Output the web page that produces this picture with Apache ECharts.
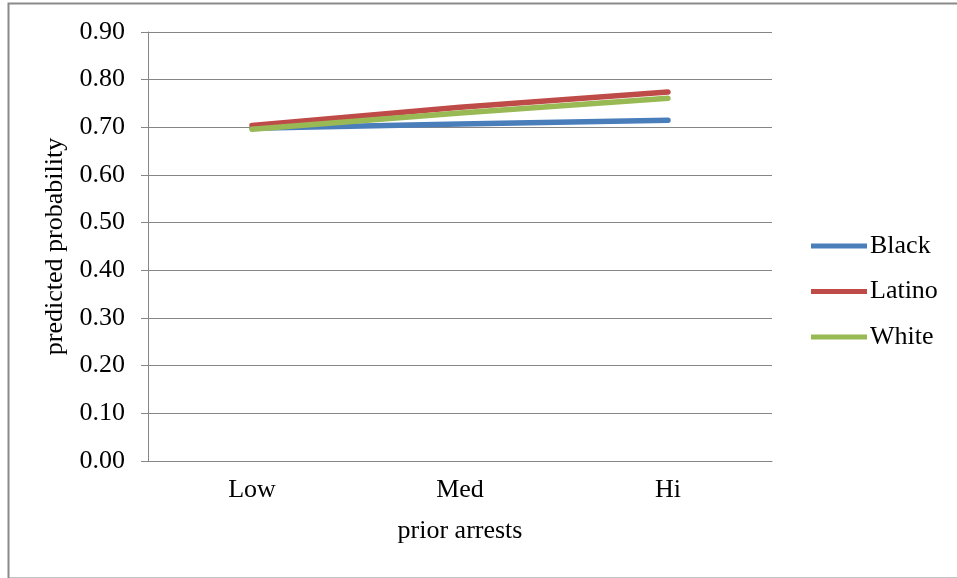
<!DOCTYPE html>
<html>
<head>
<meta charset="utf-8">
<script src="https://cdn.jsdelivr.net/npm/echarts@6/dist/echarts.min.js"></script>
<style>
html,body{margin:0;padding:0;background:#fff;}
#c{width:957px;height:578px;}
</style>
</head>
<body>
<div id="c"></div>
<script>
const categories = ['Low', 'Med', 'Hi'];
const black = [0.698, 0.707, 0.715];
const latino = [0.704, 0.742, 0.774];
const white = [0.696, 0.730, 0.761];
const seriesNames = ['Black', 'Latino', 'White'];
const colors = ['#4A7EBB', '#BE4B48', '#98B954'];

const chart = echarts.init(document.getElementById('c'));
const font = 'Liberation Serif';
const mk = (name, data, color) => ({
  name, type: 'line', data, symbol: 'none', smooth: false,
  lineStyle: { color, width: 5.5, cap: 'round' },
  itemStyle: { color },
  emphasis: { disabled: true }
});
chart.setOption({
  animation: false,
  graphic: [{
    type: 'rect', left: 6, top: 1,
    shape: { width: 1000, height: 575 },
    style: { fill: 'none', stroke: '#8a8a8a', lineWidth: 2 }
  }],
  grid: { left: 148, right: 185, top: 32, bottom: 117 },
  legend: {
    orient: 'vertical', left: 811, top: 233, padding: 0,
    itemWidth: 56, itemHeight: 14, itemGap: 19.5,
    icon: 'path://M0,0 L56,0 L56,5 L0,5 Z',
    textStyle: { fontFamily: font, fontSize: 26, lineHeight: 26, color: '#000', padding: [0,0,0,-2] },
    data: seriesNames
  },
  xAxis: {
    type: 'category', data: categories, boundaryGap: true,
    name: 'prior arrests', nameLocation: 'middle', nameGap: 57,
    nameTextStyle: { fontFamily: font, fontSize: 26, color: '#000' },
    axisLine: { lineStyle: { color: '#868686', width: 1 } },
    axisTick: { show: false },
    axisLabel: { fontFamily: font, fontSize: 26, color: '#000', margin: 16 }
  },
  yAxis: {
    type: 'value', min: 0, max: 0.9, interval: 0.1,
    name: 'predicted probability', nameLocation: 'middle', nameGap: 75, nameRotate: 90,
    nameTextStyle: { fontFamily: font, fontSize: 26, color: '#000' },
    axisLine: { show: true, lineStyle: { color: '#868686', width: 1 } },
    axisTick: { show: true, length: 7, lineStyle: { color: '#868686' } },
    splitLine: { lineStyle: { color: '#868686', width: 1 } },
    axisLabel: { fontFamily: font, fontSize: 26, color: '#000', margin: 23, formatter: v => v.toFixed(2) }
  },
  series: [mk(seriesNames[0], black, colors[0]), mk(seriesNames[1], latino, colors[1]), mk(seriesNames[2], white, colors[2])]
});
</script>
</body>
</html>
